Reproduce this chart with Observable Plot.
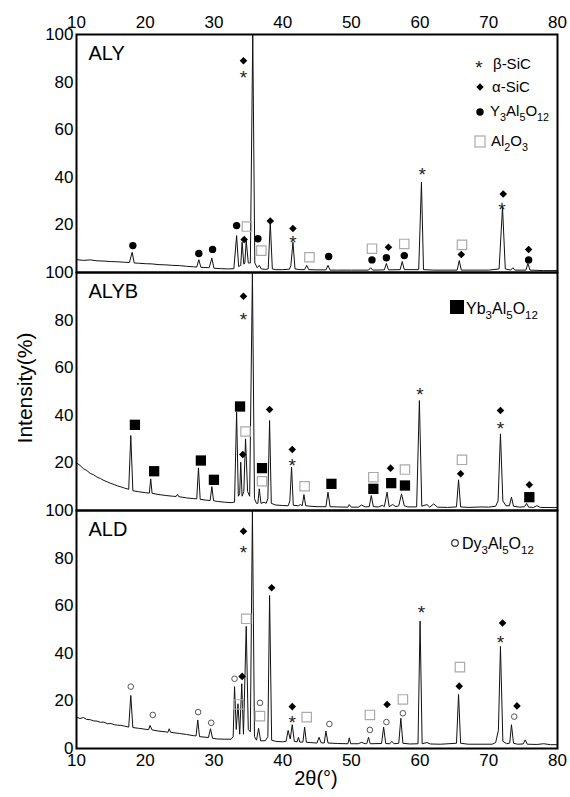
<!DOCTYPE html>
<html><head><meta charset="utf-8">
<script src="https://cdn.jsdelivr.net/npm/d3@7"></script>
<script src="https://cdn.jsdelivr.net/npm/@observablehq/plot@0.6"></script>
<style>
body{margin:0;background:#fff;}
#chart svg{overflow:visible;}
</style>
</head><body><div id="chart"></div>
<script>
const FONT = '"Liberation Sans", Arial, Helvetica, sans-serif';
const panels = ["ALY", "ALYB", "ALD"];
const thetaTicks = [10, 20, 30, 40, 50, 60, 70, 80];
const intensityTicks = [20, 40, 60, 80, 100];
const bottomTicks = [0];
const xTitle = "2θ(°)";
const yTitle = "Intensity(%)";

// XRD profiles [2θ, intensity %]
const alyProfile = [[10,5.4],[11,5.1],[12,5.3],[13,4.9],[14,4.8],[15,4.6],[16,4.5],[17,4.3],[17.7,4.2],[18.1,8.5],[18.4,4.0],[19,3.9],[20,3.7],[21,3.6],[22,3.3],[23,3.2],[24,3.0],[25,2.9],[26,2.6],[27,2.4],[27.5,2.3],[27.8,5.4],[28.1,2.2],[29.3,2.0],[29.7,6.0],[30.0,1.8],[31,1.6],[32,1.5],[32.9,1.6],[33.3,15.5],[33.6,2.5],[33.9,3],[34.1,12.7],[34.35,3.5],[34.5,4],[34.7,13.4],[35.0,4],[35.3,4],[35.65,100],[35.95,4],[36.3,2],[36.6,3],[36.9,1.5],[37.5,1.3],[37.9,1.5],[38.2,21],[38.5,1.5],[39,1.2],[40,1.2],[41,1.4],[41.2,3],[41.5,12.7],[41.8,1.5],[42.5,1.2],[43.2,1.2],[43.5,3],[43.8,1.2],[45,1.1],[46.3,1.1],[46.6,3],[46.9,1],[48,1],[50,1],[52.5,1],[52.8,2],[53.1,1],[54.8,1.1],[55.1,3.8],[55.4,1.1],[57.1,1.2],[57.4,4.6],[57.7,1.2],[59.8,1.2],[60.2,38],[60.5,1.2],[62,1],[65.4,1],[65.7,5],[66,1],[68,1],[70,1],[71.5,1.5],[72.0,27.5],[72.4,1.5],[73.2,1],[73.5,2],[73.8,1],[75.4,1],[75.7,3.8],[76,1],[78,0.8],[80,0.8]];
const alybProfile = [[10,20],[10.5,19],[11,17.6],[11.5,16.8],[12,15.6],[12.5,15],[13,14],[13.5,13.4],[14,12.6],[14.5,12],[15,11.4],[15.5,10.9],[16,10.3],[16.5,9.9],[17,9.4],[17.6,8.9],[17.9,31.5],[18.2,8.3],[19,7.9],[20,7.5],[20.6,7.3],[20.8,13.3],[21.0,7.2],[22,6.7],[23,6.3],[24,6.0],[24.5,5.9],[24.7,6.8],[24.9,5.8],[26,5.3],[27,5.0],[27.5,4.9],[27.75,17.9],[28,4.7],[29,4.3],[29.45,4.2],[29.7,10],[29.95,4.1],[30.5,3.8],[31.5,3.5],[32.5,3.3],[33.0,3.5],[33.3,41.3],[33.55,6],[33.75,7],[33.9,20.3],[34.1,6],[34.35,8],[34.6,30.1],[34.9,8],[35.2,6],[35.6,100],[35.9,5],[36.2,3],[36.4,3],[36.6,9.1],[36.85,3],[37.3,3.5],[37.6,3],[37.85,5],[38.1,37.8],[38.35,3],[39,2.3],[40,2.1],[40.8,2],[41.05,4],[41.3,18.2],[41.55,2.2],[42.3,2],[42.6,2.5],[42.85,2],[43.1,6.7],[43.35,2],[44,1.8],[45,1.6],[46.3,1.6],[46.6,7.7],[46.9,1.6],[48,1.5],[49.5,1.4],[49.7,2.5],[50,1.4],[51,1.4],[51.5,2.3],[52,1.5],[52.6,1.6],[52.9,6.3],[53.2,1.6],[54,1.5],[54.5,2.2],[54.8,1.6],[55.2,7.7],[55.5,1.6],[56,2.5],[56.5,1.6],[56.9,2],[57.3,7],[57.7,2],[58.2,1.5],[59.5,1.5],[59.9,46.2],[60.25,1.8],[61,2.5],[61.4,1.4],[62,2.8],[62.5,1.4],[64,1.3],[65.3,1.5],[65.6,12.9],[65.9,1.5],[67,1.3],[69,1.5],[70,1.4],[71,1.8],[71.35,4],[71.7,32.2],[72.05,4],[72.5,2],[73.0,2],[73.3,5.6],[73.6,1.8],[74.5,1.4],[75.2,1.6],[75.5,3],[75.8,1.4],[76.5,1.3],[77,2],[77.5,1.3],[80,1.2]];
const aldProfile = [[10,13.2],[10.5,12.6],[11,13],[11.5,12.2],[12,12.1],[12.5,11.6],[13,11.5],[13.5,11],[14,11.1],[14.5,10.4],[15,10.5],[15.5,10],[16,9.8],[16.5,9.7],[17,9.4],[17.6,9.0],[17.9,22.3],[18.2,8.8],[19,8.5],[20,8.1],[20.5,7.9],[20.7,9.7],[21.0,7.8],[22,7.3],[23,7],[23.3,6.8],[23.5,8.3],[23.7,6.8],[25,6.3],[26,5.9],[27,5.4],[27.4,5.3],[27.65,12],[27.9,5],[29.2,4.6],[29.5,8.3],[29.8,4.3],[30.5,4],[31.5,3.9],[32.5,3.9],[32.8,5],[33.0,26],[33.25,8],[33.5,18.8],[33.75,6],[34.05,27.2],[34.3,6],[34.7,51.3],[35.0,8],[35.3,7],[35.6,100],[35.9,5],[36.2,3.5],[36.5,8.5],[36.8,3.2],[37.5,3.3],[37.85,5],[38.1,64.3],[38.4,3.5],[39,3],[40,2.8],[40.5,3],[40.8,7.6],[41.1,4],[41.4,10],[41.7,3],[42.1,2.8],[42.3,4.7],[42.5,2.7],[42.95,2.7],[43.2,9],[43.45,2.6],[44,2.5],[45,2.3],[45.3,4.7],[45.6,2.4],[46.05,2.3],[46.3,7.3],[46.6,2.3],[48,2.1],[49.5,2],[49.7,4.5],[49.9,2],[51,2],[51.5,2.6],[52,2],[52.25,2.1],[52.5,4.7],[52.75,2],[54.4,2.1],[54.7,9],[55,2.1],[55.6,2],[55.9,3],[56.2,2],[56.9,2.2],[57.2,12.7],[57.5,2.2],[58.5,1.9],[59.7,2],[60.0,53.5],[60.3,2],[61,2.5],[61.5,1.9],[63,1.8],[65.3,2.2],[65.6,22.7],[65.9,2.2],[67,1.8],[69,1.8],[70.5,1.8],[71.0,2.5],[71.4,7.6],[71.7,42.9],[72.05,3],[72.6,2],[73.05,2.3],[73.3,10],[73.6,2.2],[74.2,1.8],[75.0,1.9],[75.3,3.6],[75.6,1.8],[77,1.7],[78,2],[79,1.6],[80,1.6]];

// Phase markers [2θ, intensity %]
const alyBeta = [[34.3,84],[41.5,14.4],[60.3,43],[71.9,28.4]];
const alyAlpha = [[34.3,89],[34.4,13.9],[38.2,21.6],[41.5,18.5],[55.4,10.6],[66.0,7.6],[72.1,33],[75.8,9.7]];
const alyYAG = [[18.2,11.3],[27.8,8],[29.8,9.7],[33.3,19.7],[36.4,14.2],[46.7,6.7],[53.0,5.3],[55.1,6.2],[57.7,7.1],[75.8,5.3]];
const alyAl2O3 = [[34.8,19.3],[36.9,9.2],[43.9,6.4],[53.0,10],[57.7,12],[66.1,11.6]];

const alybBeta = [[34.3,82],[41.4,21],[60.0,50.7],[71.7,36.4]];
const alybAlpha = [[34.3,90],[34.2,23.5],[38.1,42.4],[41.4,25.6],[55.7,17.8],[65.9,15.4],[71.7,42],[75.9,10.8]];
const alybYbAG = [[18.5,36],[21.3,16.5],[28.1,21],[30.0,12.9],[33.8,43.7],[37.0,17.8],[47.1,11.2],[53.2,9.1],[55.8,11.5],[57.8,10.5],[75.9,5.6]];
const alybAl2O3 = [[34.6,33.2],[37.0,12.3],[43.2,10.2],[53.2,14],[57.8,17.2],[66.1,21.3]];

const aldBeta = [[34.3,84.3],[41.4,12.9],[60.2,59.1],[71.7,46.5]];
const aldAlpha = [[34.3,91.3],[34.1,30.3],[38.4,67.5],[41.4,17.6],[55.2,18.5],[65.7,26.2],[72.0,52.7],[74.1,17.9]];
const aldDyAG = [[17.9,26],[21.1,14.1],[27.7,15.3],[29.6,10.8],[33.0,29.3],[36.7,19.2],[46.8,10.3],[52.7,7.8],[55.1,11.1],[57.5,14.8],[73.7,13.4]];
const aldAl2O3 = [[33.6,18.5],[34.7,54.5],[36.7,13.6],[43.5,13.2],[52.7,14.1],[57.5,20.6],[65.8,34.2]];

const legendLabels = ["β-SiC", "α-SiC", "Y_3Al_5O_12", "Al_2O_3"];
const legendYb = "Yb_3Al_5O_12";
const legendDy = "Dy_3Al_5O_12";

const rows = (panel, arr) => arr.map(([theta, I]) => ({panel, theta, I}));
const lineData = [...rows("ALY", alyProfile), ...rows("ALYB", alybProfile), ...rows("ALD", aldProfile)];
const beta = [...rows("ALY", alyBeta), ...rows("ALYB", alybBeta), ...rows("ALD", aldBeta)];
const alpha = [...rows("ALY", alyAlpha), ...rows("ALYB", alybAlpha), ...rows("ALD", aldAlpha)];
const alumina = [...rows("ALY", alyAl2O3), ...rows("ALYB", alybAl2O3), ...rows("ALD", aldAl2O3)];
const yag = rows("ALY", alyYAG);
const ybag = rows("ALYB", alybYbAG);
const dyag = rows("ALD", aldDyAG);

const pos = {x: "theta", y: "I", fy: "panel"};

const plot = Plot.plot({
  width: 570, height: 797,
  marginTop: 34, marginBottom: 49, marginLeft: 76, marginRight: 13,
  style: {fontFamily: FONT, background: "white", overflow: "visible", color: "black"},
  x: {domain: [10, 80]},
  y: {domain: [0, 100]},
  fy: {domain: panels, padding: 0, axis: null},
  marks: [
    Plot.line(lineData, {...pos, stroke: "#111", strokeWidth: 1, clip: true}),
    Plot.dot(alumina, {...pos, symbol: "square", r: 5.3, stroke: "#aaa", strokeWidth: 1.2, fill: "none"}),
    Plot.dot(yag, {...pos, r: 3.7, fill: "black"}),
    Plot.dot(ybag, {...pos, symbol: "square", r: 5.8, fill: "black"}),
    Plot.dot(dyag, {...pos, r: 2.8, stroke: "#555", strokeWidth: 1, fill: "none"}),
    Plot.dot(alpha, {...pos, symbol: "diamond2", r: 3.4, fill: "black"}),
    Plot.text(beta, {...pos, text: () => "*", fontSize: 19, dy: 5, fill: "#222"}),
    Plot.frame({stroke: "black", strokeWidth: 2}),
    Plot.axisX({anchor: "top", ticks: thetaTicks, tickSize: 0, tickPadding: 7, label: null, fontSize: 17}),
    Plot.axisX({anchor: "bottom", ticks: thetaTicks, tickSize: 0, tickPadding: 5, label: null, fontSize: 17}),
    Plot.axisY({ticks: intensityTicks, tickSize: 0, tickPadding: 3, label: null, fontSize: 17}),
    Plot.axisY({ticks: bottomTicks, tickSize: 0, tickPadding: 3, label: null, fontSize: 17, facetAnchor: "bottom"}),
    Plot.text(panels, {fy: d => d, text: d => d, frameAnchor: "top-left", dx: 12, dy: 11, lineAnchor: "top", textAnchor: "start", fontSize: 20})
  ]
});
document.getElementById("chart").append(plot);

// Titles and legends (layout in pixels)
const svg = d3.select(plot);
const g = svg.append("g").attr("font-family", FONT).attr("fill", "black").attr("text-anchor", "start");

function formula(x, y, str, size) {
  const t = g.append("text").attr("x", x).attr("y", y).attr("font-size", size).attr("text-anchor", "start");
  const tokens = str.split(/(_\d+)/).filter(s => s);
  let shifted = false;
  const sh = size * 0.32;
  tokens.forEach(tok => {
    if (tok.startsWith("_")) {
      t.append("tspan").attr("font-size", size * 0.72).attr("dy", shifted ? 0 : sh).text(tok.slice(1));
      shifted = true;
    } else {
      t.append("tspan").attr("dy", shifted ? -sh : 0).text(tok);
      shifted = false;
    }
  });
  return t;
}

g.append("text").attr("transform", "translate(32,388) rotate(-90)").attr("text-anchor", "middle")
  .attr("font-size", 21).text(yTitle);
g.append("text").attr("x", 316).attr("y", 785).attr("text-anchor", "middle")
  .attr("font-size", 20).text(xTitle);

// ALY legend
g.append("text").attr("x", 479).attr("y", 74).attr("text-anchor", "middle").attr("font-size", 19).attr("fill", "#222").text("*");
formula(493, 69, legendLabels[0], 15);
g.append("path").attr("d", d3.symbol().type(d3.symbolDiamond2).size(36)()).attr("transform", "translate(480,87)");
formula(492, 92, legendLabels[1], 15);
g.append("circle").attr("cx", 480).attr("cy", 112).attr("r", 3.7);
formula(490, 116, legendLabels[2], 15);
g.append("rect").attr("x", 475).attr("y", 136).attr("width", 10).attr("height", 11).attr("fill", "none").attr("stroke", "#aaa").attr("stroke-width", 1.2);
formula(491, 146, legendLabels[3], 15);

// ALYB legend
g.append("rect").attr("x", 450).attr("y", 300).attr("width", 14).attr("height", 14);
formula(466, 314, legendYb, 16);

// ALD legend
g.append("circle").attr("cx", 455).attr("cy", 543).attr("r", 3.3).attr("fill", "none").attr("stroke", "#333").attr("stroke-width", 1.2);
formula(462, 549, legendDy, 16);
</script>
</body></html>
